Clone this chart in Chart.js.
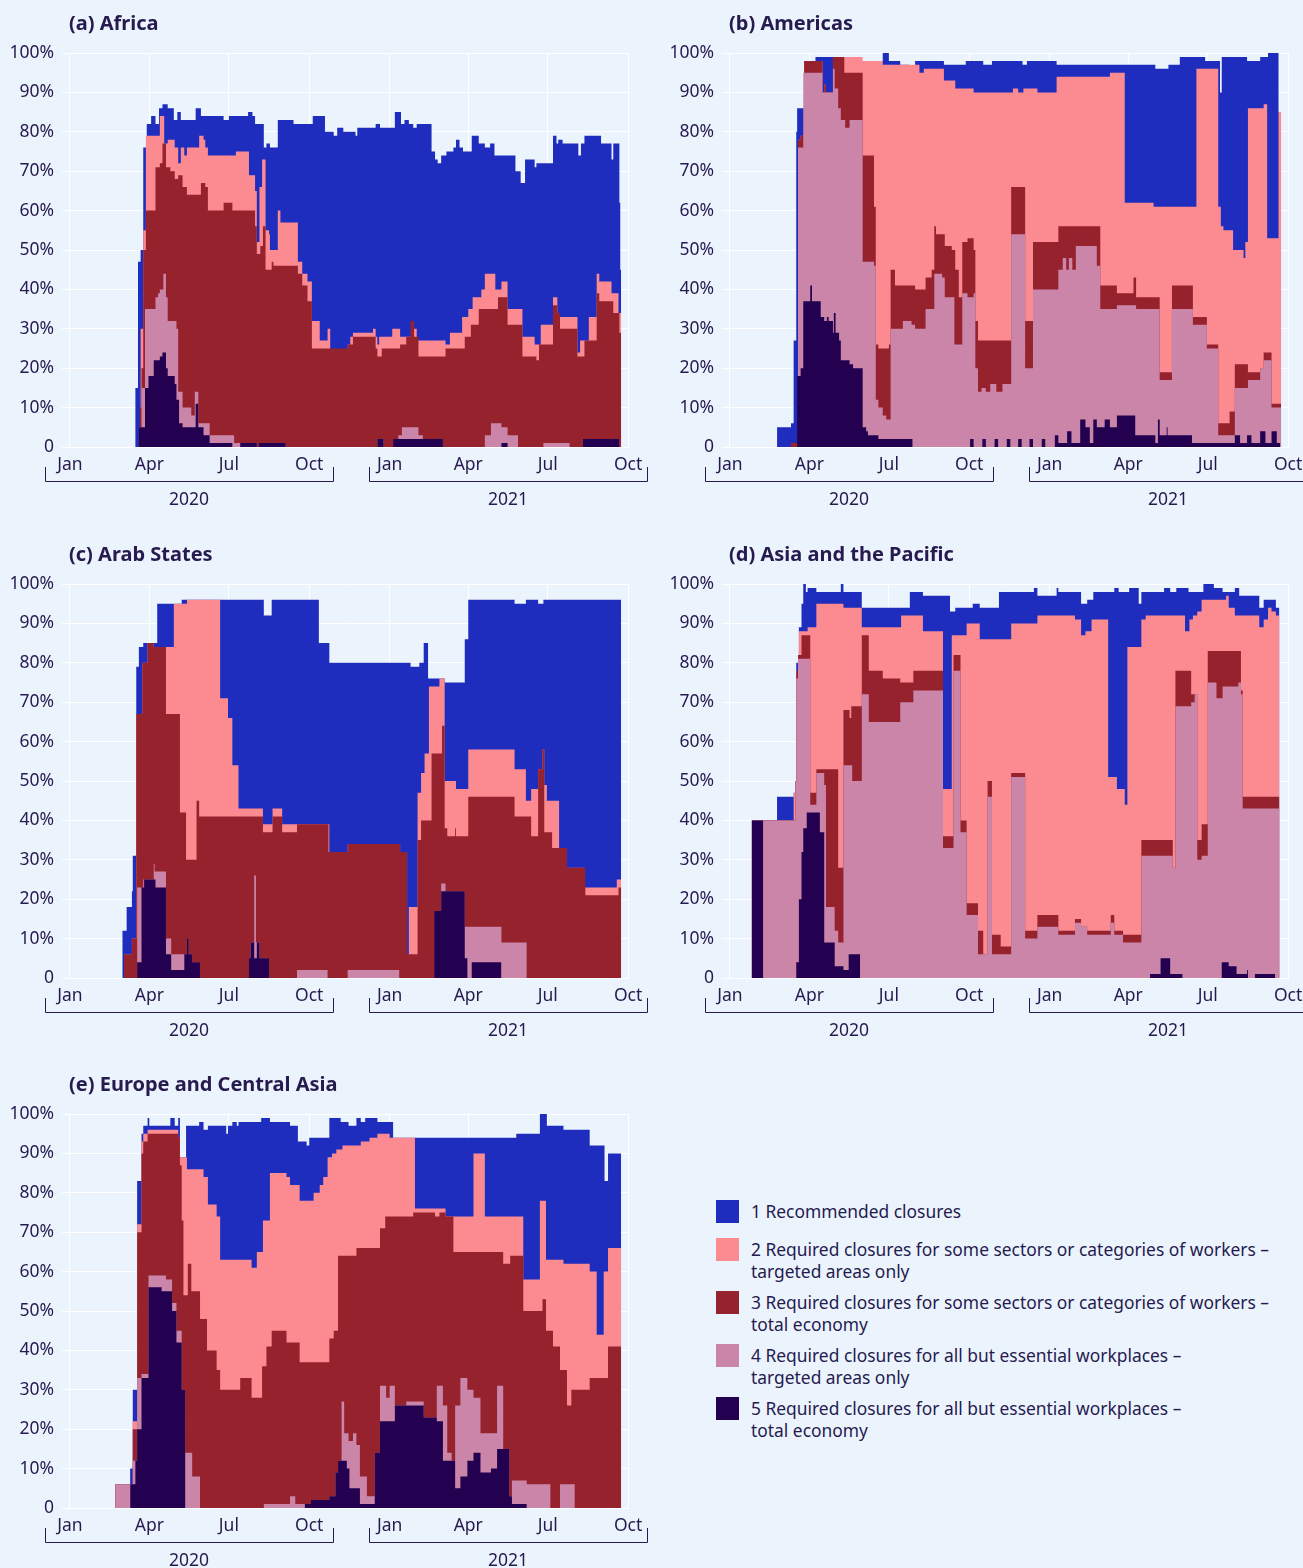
<!DOCTYPE html>
<html>
<head>
<meta charset="utf-8">
<script src="https://cdn.jsdelivr.net/npm/chart.js@4.4.1/dist/chart.umd.min.js"></script>
<style>
  html, body { margin:0; padding:0; }
  body { width:1303px; height:1568px; overflow:hidden; position:relative; background:#EBF4FD; font-family:"Noto Sans", sans-serif; color:#261a4f; }
  canvas { position:absolute; }
  .lg-item { position:absolute; left:716px; display:flex; align-items:flex-start; }
  .lg-sw { width:23px; height:23px; flex:none; }
  .lg-tx { margin-left:12px; font-size:17.4px; line-height:22px; white-space:nowrap; color:#261a4f; }
</style>
</head>
<body>
<canvas id="pa" width="655" height="530" style="left:0;top:0"></canvas>
<canvas id="pb" width="655" height="530" style="left:660px;top:0"></canvas>
<canvas id="pc" width="655" height="530" style="left:0;top:531px"></canvas>
<canvas id="pd" width="655" height="530" style="left:660px;top:531px"></canvas>
<canvas id="pe" width="655" height="530" style="left:0;top:1061px"></canvas>
<div id="legend"></div>
<script>
// x values: days since 1 January 2020; y values: cumulative share of workers (%) in countries
// with workplace closures at level >= k (k = 1..5).

// (a) Africa
const africaL1 = [[73,0],[75,15],[78,47],[81,50],[84,76],[88,82],[93,84],[98,82],[102,86],[106,87],[112,86],[119,83],[123,85],[127,83],[138,83],[144,86],[150,84],[176,83],[182,84],[204,85],[209,84],[212,82],[222,76],[225,77],[229,76],[238,83],[256,82],[278,84],[292,80],[302,79],[306,81],[313,80],[327,79],[329,81],[350,82],[355,81],[372,85],[379,82],[383,83],[388,82],[393,81],[397,82],[414,75],[418,73],[421,72],[425,74],[431,75],[439,76],[442,78],[446,76],[450,75],[460,79],[468,77],[475,76],[481,77],[486,74],[510,70],[516,67],[521,73],[532,71],[534,72],[553,79],[557,77],[559,78],[564,77],[582,74],[585,77],[589,79],[608,77],[620,73],[622,77],[629,62],[630,45],[631,0]];
const africaL2 = [[79,5],[81,30],[84,55],[87,79],[103,84],[108,77],[112,78],[120,76],[124,72],[127,76],[131,74],[134,76],[148,79],[153,78],[155,76],[158,74],[190,75],[205,69],[212,65],[214,52],[217,66],[220,73],[224,55],[228,54],[229,50],[238,60],[241,57],[261,47],[266,44],[272,42],[277,32],[286,27],[295,30],[298,24],[318,26],[321,28],[324,29],[347,30],[350,28],[352,26],[354,28],[369,30],[378,28],[391,32],[392,30],[397,27],[430,26],[435,29],[449,33],[456,35],[461,38],[471,40],[475,44],[487,40],[494,42],[501,35],[518,28],[532,26],[539,31],[553,38],[558,34],[561,33],[581,24],[584,27],[594,33],[603,44],[606,42],[620,39],[628,34],[631,0]];
const africaL3 = [[77,0],[79,5],[80,10],[82,20],[84,50],[87,60],[98,71],[103,72],[106,77],[110,71],[115,70],[120,68],[124,69],[129,66],[134,64],[150,67],[155,66],[158,60],[176,62],[186,60],[212,56],[214,49],[218,51],[221,56],[224,45],[231,47],[233,46],[241,46],[261,44],[266,41],[272,37],[277,25],[318,26],[324,28],[350,25],[352,23],[357,25],[378,26],[385,28],[390,32],[394,28],[399,23],[430,25],[452,28],[459,31],[468,35],[490,38],[501,31],[518,23],[534,22],[537,26],[553,36],[558,34],[561,30],[581,23],[589,27],[603,39],[606,37],[622,34],[629,29],[631,0]];
const africaL4 = [[79,5],[82,15],[86,35],[98,38],[101,39],[103,40],[107,44],[110,38],[112,32],[122,30],[124,14],[129,10],[139,8],[143,14],[147,6],[160,3],[188,1],[214,0],[216,1],[247,0],[352,2],[359,0],[370,2],[376,3],[380,5],[399,3],[404,2],[427,0],[475,3],[482,6],[494,5],[501,3],[513,0],[542,1],[572,0],[587,2],[629,0]];
const africaL5 = [[77,0],[79,5],[86,15],[90,18],[96,22],[103,23],[106,24],[110,20],[112,18],[120,16],[122,12],[125,6],[129,5],[144,11],[147,5],[153,3],[160,1],[186,0],[195,1],[214,0],[216,1],[247,0],[352,2],[359,0],[370,2],[427,0],[494,1],[501,0],[587,2],[629,0]];

// (b) Americas
const americasL1 = [[54,5],[70,6],[73,27],[76,80],[77,86],[85,98],[98,99],[140,98],[175,100],[182,98],[195,97],[205,96],[212,98],[245,97],[270,98],[290,97],[300,98],[335,97],[340,98],[374,97],[487,96],[502,97],[515,99],[544,98],[561,90],[563,99],[592,98],[607,99],[616,100],[628,85],[631,0]];
const americasL2 = [[70,1],[78,78],[81,79],[85,98],[104,98],[106,90],[108,92],[110,90],[118,99],[152,98],[175,97],[217,95],[222,96],[245,93],[258,91],[279,90],[324,91],[330,90],[336,91],[352,90],[374,94],[435,95],[452,62],[485,61],[534,96],[559,61],[562,56],[565,55],[576,50],[588,48],[590,52],[593,86],[611,87],[615,53],[628,85],[631,0]];
const americasL3 = [[70,1],[78,78],[81,79],[85,98],[104,98],[106,90],[108,92],[110,90],[118,99],[131,95],[152,74],[165,61],[167,26],[170,25],[182,26],[184,45],[189,41],[212,40],[224,43],[231,45],[234,56],[236,54],[246,51],[254,50],[258,45],[262,38],[266,52],[272,53],[279,50],[281,32],[284,27],[322,66],[338,32],[347,52],[376,56],[424,41],[443,39],[462,43],[465,38],[492,19],[506,41],[530,33],[546,26],[559,6],[572,9],[578,21],[593,19],[607,20],[611,24],[620,11],[631,0]];
const americasL4 = [[75,0],[78,76],[84,95],[103,95],[106,90],[113,90],[118,96],[120,91],[124,86],[127,83],[132,81],[137,83],[152,47],[165,46],[167,12],[170,10],[175,8],[179,7],[184,30],[198,32],[208,31],[212,30],[224,35],[234,44],[243,43],[246,38],[257,26],[266,39],[272,38],[279,39],[281,20],[284,14],[288,15],[293,14],[298,16],[305,14],[312,16],[322,54],[338,20],[347,40],[376,45],[381,48],[385,45],[388,48],[392,45],[396,51],[420,46],[424,35],[443,36],[465,35],[492,17],[506,35],[530,31],[546,25],[559,3],[578,15],[593,17],[607,20],[611,22],[620,10],[631,0]];
const americasL5 = [[74,0],[77,18],[81,20],[84,37],[92,41],[94,37],[104,33],[108,32],[111,33],[113,32],[118,29],[119,34],[121,29],[125,27],[127,22],[137,21],[141,20],[152,5],[156,4],[158,3],[170,2],[209,0],[275,2],[279,0],[289,2],[293,0],[303,2],[307,0],[317,2],[321,0],[330,2],[334,0],[343,2],[347,0],[357,2],[361,0],[372,3],[376,1],[386,4],[391,1],[401,7],[407,5],[412,1],[416,7],[420,5],[429,7],[435,5],[443,8],[464,3],[487,1],[490,7],[492,3],[500,5],[501,3],[529,1],[578,3],[584,1],[592,3],[597,1],[607,4],[613,1],[620,4],[626,1],[630,0]];

// (c) Arab States
const arabL1 = [[60,12],[65,18],[71,22],[72,31],[76,79],[79,84],[84,85],[100,95],[128,96],[222,92],[231,96],[285,85],[297,80],[390,79],[400,80],[405,85],[410,76],[429,75],[452,86],[456,96],[509,95],[522,96],[536,95],[542,96],[631,0]];
const arabL2 = [[62,6],[71,10],[76,67],[83,80],[89,85],[96,84],[110,84],[119,95],[134,96],[172,71],[181,66],[186,54],[193,43],[221,39],[232,43],[243,39],[297,32],[318,34],[378,32],[386,6],[388,18],[398,47],[402,52],[406,57],[411,74],[423,76],[429,50],[442,48],[456,58],[509,53],[522,45],[528,48],[536,53],[541,58],[543,49],[546,45],[560,33],[569,28],[589,23],[626,25],[631,0]];
const arabL3 = [[62,6],[71,10],[76,67],[83,80],[89,85],[96,84],[110,67],[126,42],[133,30],[145,45],[148,41],[221,37],[232,41],[243,37],[260,39],[296,32],[318,34],[378,32],[386,6],[398,35],[402,40],[414,57],[426,64],[429,38],[432,36],[441,38],[442,36],[456,46],[509,41],[528,36],[536,53],[541,58],[543,37],[552,33],[569,28],[590,21],[628,23],[631,0]];
const arabL4 = [[76,0],[77,23],[84,25],[96,29],[97,27],[110,10],[116,6],[131,6],[134,10],[136,6],[140,4],[149,0],[205,5],[207,9],[211,26],[213,9],[217,5],[228,0],[260,2],[295,0],[318,2],[377,0],[417,17],[425,24],[430,22],[452,13],[494,9],[523,0]];
const arabL5 = [[76,0],[77,4],[82,23],[85,25],[98,23],[110,6],[116,2],[131,6],[134,10],[136,6],[140,4],[149,0],[205,5],[207,9],[211,5],[214,9],[217,5],[228,0],[417,17],[425,22],[452,5],[455,0],[460,4],[494,0]];

// (d) Asia and the Pacific
const asiaL1 = [[25,40],[54,46],[73,47],[75,50],[76,80],[79,89],[82,95],[84,100],[87,98],[89,99],[99,98],[127,100],[130,98],[151,94],[206,98],[221,97],[252,93],[258,94],[278,95],[286,94],[308,98],[348,99],[352,97],[374,99],[376,98],[402,95],[409,96],[416,98],[440,99],[445,98],[457,99],[468,95],[471,98],[497,99],[504,98],[511,99],[525,98],[542,100],[554,99],[564,98],[578,99],[583,97],[606,94],[611,96],[625,94],[629,0]];
const asiaL2 = [[25,40],[73,47],[75,50],[76,78],[79,88],[89,89],[99,95],[130,94],[151,89],[196,92],[221,88],[244,48],[254,87],[271,90],[286,86],[322,90],[352,92],[395,91],[402,87],[407,88],[414,91],[433,51],[443,48],[452,44],[455,84],[471,91],[476,92],[521,88],[526,91],[530,92],[535,93],[540,96],[568,97],[571,94],[578,92],[606,89],[611,91],[616,94],[620,93],[625,92],[629,0]];
const asiaL3 = [[25,40],[73,40],[75,50],[76,78],[78,82],[82,87],[92,47],[99,53],[124,28],[130,68],[137,66],[139,69],[151,87],[159,78],[175,76],[195,75],[210,78],[244,36],[256,82],[264,40],[271,19],[284,12],[290,6],[295,50],[300,11],[310,8],[322,52],[338,12],[352,16],[376,12],[395,15],[402,13],[409,12],[436,16],[440,12],[450,11],[471,35],[507,28],[510,78],[528,72],[535,35],[540,39],[547,83],[585,73],[587,46],[629,0]];
const asiaL4 = [[25,40],[73,40],[75,50],[76,76],[78,81],[92,44],[99,52],[108,49],[110,18],[120,12],[124,9],[130,54],[140,50],[151,72],[159,65],[195,70],[210,73],[244,33],[256,78],[264,37],[271,16],[284,6],[295,46],[300,6],[322,51],[338,10],[352,13],[376,11],[395,14],[402,13],[409,11],[436,14],[440,11],[450,9],[471,31],[507,28],[510,69],[528,70],[532,72],[535,30],[540,31],[547,75],[557,71],[564,74],[582,75],[585,72],[587,43],[629,0]];
const asiaL5 = [[25,40],[38,0],[76,4],[79,20],[82,32],[84,38],[88,42],[103,37],[108,9],[120,3],[130,2],[136,6],[149,0],[481,1],[493,5],[504,1],[518,0],[563,4],[571,3],[580,1],[592,2],[593,0],[601,1],[624,0]];

// (e) Europe and Central Asia
const europeL1 = [[52,6],[69,10],[72,30],[77,83],[82,95],[84,97],[89,99],[91,97],[115,99],[120,97],[124,99],[126,89],[133,97],[148,98],[153,96],[158,97],[179,95],[181,97],[186,98],[191,97],[193,98],[219,99],[229,98],[252,97],[261,93],[271,92],[274,94],[297,99],[310,98],[319,97],[328,99],[333,98],[338,99],[352,98],[370,94],[511,95],[538,100],[546,97],[565,96],[595,92],[612,83],[616,90],[631,0]];
const europeL2 = [[52,6],[69,6],[72,22],[77,72],[82,93],[84,95],[89,96],[124,94],[126,89],[134,86],[153,84],[158,77],[168,74],[172,63],[191,63],[208,61],[214,65],[221,73],[229,85],[248,84],[252,82],[263,78],[279,80],[286,82],[290,84],[295,89],[300,90],[305,91],[312,92],[333,93],[343,94],[352,95],[366,94],[395,76],[430,74],[462,90],[475,74],[519,58],[538,78],[545,63],[565,62],[595,60],[603,44],[611,60],[616,66],[631,0]];
const europeL3 = [[52,6],[69,6],[72,20],[77,70],[82,90],[84,93],[89,95],[124,94],[126,87],[128,73],[130,54],[135,62],[139,55],[149,48],[157,40],[168,35],[172,30],[195,33],[208,28],[220,36],[225,41],[231,45],[248,42],[263,37],[297,43],[302,45],[307,64],[328,66],[355,71],[361,74],[393,75],[418,74],[423,75],[430,74],[439,65],[496,62],[504,64],[519,50],[541,53],[545,45],[553,41],[561,35],[569,26],[574,30],[595,33],[616,41],[631,0]];
const europeL4 = [[52,6],[72,12],[77,33],[82,34],[90,59],[110,58],[117,52],[122,45],[128,30],[132,14],[140,8],[149,0],[222,1],[252,3],[258,1],[276,2],[297,3],[304,9],[307,12],[311,27],[314,19],[319,17],[324,19],[328,16],[332,8],[340,3],[349,14],[355,31],[362,28],[366,31],[372,26],[385,27],[405,23],[420,31],[427,26],[432,14],[437,12],[441,26],[447,33],[455,30],[462,28],[470,19],[489,31],[496,15],[503,3],[506,7],[523,6],[550,0],[561,6],[578,0]];
const europeL5 = [[69,6],[75,12],[77,20],[82,33],[90,56],[105,55],[117,50],[122,42],[128,30],[132,0],[269,1],[276,2],[297,3],[304,9],[307,12],[317,10],[320,5],[332,1],[349,14],[355,22],[372,26],[405,23],[420,22],[427,12],[441,5],[447,8],[455,12],[462,14],[470,9],[482,10],[489,15],[503,3],[506,1],[523,0]];

// axis ticks and labels
const quarterDays = [0, 91, 182, 274, 366, 456, 547, 639];
const quarterLabels = ['Jan', 'Apr', 'Jul', 'Oct', 'Jan', 'Apr', 'Jul', 'Oct'];
const yearGroups = [
  { label: '2020', from: -28.5, to: 301 },
  { label: '2021', from: 342.5, to: 660.5 }
];
const panelTitles = ['(a) Africa', '(b) Americas', '(c) Arab States', '(d) Asia and the Pacific', '(e) Europe and Central Asia'];
const legendLabels = [
  ['1 Recommended closures'],
  ['2 Required closures for some sectors or categories of workers –', 'targeted areas only'],
  ['3 Required closures for some sectors or categories of workers –', 'total economy'],
  ['4 Required closures for all but essential workplaces –', 'targeted areas only'],
  ['5 Required closures for all but essential workplaces –', 'total economy']
];

const levelColors = ['#1F2DBE', '#FC8B91', '#95222C', '#CA85A9', '#230050'];
const textColor = '#261a4f';
const fontFamily = '"Noto Sans", "Open Sans", sans-serif';

const decorPlugin = {
  id: 'decor',
  afterDraw(chart, args, opts) {
    const ctx = chart.ctx;
    const x = chart.scales.x;
    const bottom = chart.chartArea.bottom;
    ctx.save();
    ctx.fillStyle = textColor;
    ctx.font = 'bold 20px ' + fontFamily;
    ctx.textAlign = 'left';
    ctx.textBaseline = 'middle';
    ctx.fillText(opts.title, 69, 24);
    ctx.strokeStyle = textColor;
    ctx.lineWidth = 1;
    ctx.font = '17.5px ' + fontFamily;
    ctx.textAlign = 'center';
    yearGroups.forEach(g => {
      const x0 = Math.round(x.getPixelForValue(g.from)) + 0.5;
      const x1 = Math.round(x.getPixelForValue(g.to)) + 0.5;
      const yl = bottom + 34.5;
      ctx.beginPath();
      ctx.moveTo(x0, bottom + 20);
      ctx.lineTo(x0, yl);
      ctx.lineTo(x1, yl);
      ctx.lineTo(x1, bottom + 20);
      ctx.stroke();
      ctx.fillText(g.label, x.getPixelForValue((g.from + g.to) / 2), bottom + 53);
    });
    ctx.restore();
  }
};

function makePanel(canvasId, title, levels) {
  const datasets = levels.map((arr, i) => ({
    label: legendLabels[i].join(' '),
    data: arr.map(p => ({ x: p[0], y: p[1] })),
    stepped: true,
    fill: 'origin',
    backgroundColor: levelColors[i],
    borderColor: 'rgba(0,0,0,0)',
    borderWidth: 0,
    pointRadius: 0,
    order: 5 - i
  }));
  return new Chart(document.getElementById(canvasId), {
    type: 'line',
    data: { datasets },
    plugins: [decorPlugin],
    options: {
      responsive: false,
      animation: false,
      events: [],
      layout: { padding: { top: 53, right: 26, left: 0, bottom: 0 } },
      plugins: {
        legend: { display: false },
        tooltip: { enabled: false },
        decor: { title }
      },
      scales: {
        x: {
          type: 'linear',
          min: -9,
          max: 640,
          afterBuildTicks: s => { s.ticks = quarterDays.map(v => ({ value: v })); },
          afterFit: s => { s.height = 83; },
          ticks: {
            autoSkip: false, maxRotation: 0, padding: 8,
            color: textColor, font: { family: fontFamily, size: 17.5 },
            callback: v => quarterLabels[quarterDays.indexOf(v)]
          },
          grid: { color: '#ffffff', lineWidth: 1, drawTicks: false },
          border: { display: false }
        },
        y: {
          min: 0,
          max: 100,
          afterFit: s => { s.width = 62; },
          ticks: {
            stepSize: 10, padding: 8,
            color: textColor, font: { family: fontFamily, size: 17.5 },
            callback: v => (v === 0 ? '0' : v + '%')
          },
          grid: { color: '#ffffff', lineWidth: 1, drawTicks: false },
          border: { display: false }
        }
      }
    }
  });
}

makePanel('pa', panelTitles[0], [africaL1, africaL2, africaL3, africaL4, africaL5]);
makePanel('pb', panelTitles[1], [americasL1, americasL2, americasL3, americasL4, americasL5]);
makePanel('pc', panelTitles[2], [arabL1, arabL2, arabL3, arabL4, arabL5]);
makePanel('pd', panelTitles[3], [asiaL1, asiaL2, asiaL3, asiaL4, asiaL5]);
makePanel('pe', panelTitles[4], [europeL1, europeL2, europeL3, europeL4, europeL5]);

// legend
const legendTops = [1200, 1238, 1291, 1344, 1397];
const legendEl = document.getElementById('legend');
legendLabels.forEach((lines, i) => {
  const item = document.createElement('div');
  item.className = 'lg-item';
  item.style.top = legendTops[i] + 'px';
  const sw = document.createElement('div');
  sw.className = 'lg-sw';
  sw.style.background = levelColors[i];
  const tx = document.createElement('div');
  tx.className = 'lg-tx';
  lines.forEach((ln, j) => {
    if (j) tx.appendChild(document.createElement('br'));
    tx.appendChild(document.createTextNode(ln));
  });
  item.appendChild(sw);
  item.appendChild(tx);
  legendEl.appendChild(item);
});
</script>
</body>
</html>
